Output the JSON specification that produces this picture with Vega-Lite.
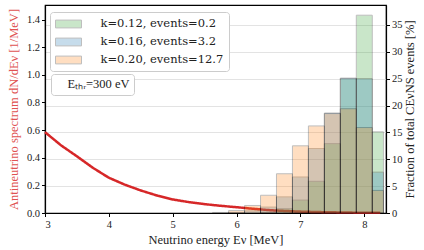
{
  "$schema": "https://vega.github.io/schema/vega-lite/v6.json",
  "width": 341,
  "height": 208,
  "autosize": {"type": "none"},
  "padding": {"left": 45, "top": 5, "right": 38, "bottom": 37},
  "config": {
    "font": "Liberation Serif",
    "view": {"stroke": "black", "strokeWidth": 1.2},
    "axis": {
      "domainColor": "black",
      "domainWidth": 1.2,
      "tickColor": "black",
      "tickSize": 3.5,
      "labelFont": "Liberation Serif",
      "labelFontSize": 10.5,
      "labelColor": "#222222",
      "labelPadding": 2,
      "titleFont": "Liberation Serif",
      "titleFontSize": 12.5,
      "titleFontWeight": "normal",
      "titleColor": "#222222",
      "gridColor": "#e3e3e3",
      "gridWidth": 1
    },
    "legend": {
      "labelFont": "Liberation Serif",
      "labelFontSize": 12.5,
      "labelColor": "#222222"
    }
  },
  "datasets": {
    "spectrum": [
      {"E": 3.0, "dNdE": 0.585, "thr": "Eₜₕᵣ=300 eV"},
      {"E": 3.25, "dNdE": 0.49, "thr": "Eₜₕᵣ=300 eV"},
      {"E": 3.5, "dNdE": 0.41, "thr": "Eₜₕᵣ=300 eV"},
      {"E": 3.75, "dNdE": 0.327, "thr": "Eₜₕᵣ=300 eV"},
      {"E": 4.0, "dNdE": 0.255, "thr": "Eₜₕᵣ=300 eV"},
      {"E": 4.25, "dNdE": 0.205, "thr": "Eₜₕᵣ=300 eV"},
      {"E": 4.5, "dNdE": 0.163, "thr": "Eₜₕᵣ=300 eV"},
      {"E": 4.75, "dNdE": 0.127, "thr": "Eₜₕᵣ=300 eV"},
      {"E": 5.0, "dNdE": 0.098, "thr": "Eₜₕᵣ=300 eV"},
      {"E": 5.25, "dNdE": 0.079, "thr": "Eₜₕᵣ=300 eV"},
      {"E": 5.5, "dNdE": 0.064, "thr": "Eₜₕᵣ=300 eV"},
      {"E": 5.75, "dNdE": 0.052, "thr": "Eₜₕᵣ=300 eV"},
      {"E": 6.0, "dNdE": 0.042, "thr": "Eₜₕᵣ=300 eV"},
      {"E": 6.25, "dNdE": 0.031, "thr": "Eₜₕᵣ=300 eV"},
      {"E": 6.5, "dNdE": 0.021, "thr": "Eₜₕᵣ=300 eV"},
      {"E": 6.75, "dNdE": 0.015, "thr": "Eₜₕᵣ=300 eV"},
      {"E": 7.0, "dNdE": 0.01, "thr": "Eₜₕᵣ=300 eV"},
      {"E": 7.25, "dNdE": 0.007, "thr": "Eₜₕᵣ=300 eV"},
      {"E": 7.5, "dNdE": 0.005, "thr": "Eₜₕᵣ=300 eV"},
      {"E": 7.75, "dNdE": 0.003, "thr": "Eₜₕᵣ=300 eV"},
      {"E": 8.0, "dNdE": 0.002, "thr": "Eₜₕᵣ=300 eV"},
      {"E": 8.25, "dNdE": 0.001, "thr": "Eₜₕᵣ=300 eV"}
    ],
    "hist": [
      {"k": "k=0.12, events=0.2", "lo": 6.375, "hi": 6.625, "pct": 0.15},
      {"k": "k=0.12, events=0.2", "lo": 6.625, "hi": 6.875, "pct": 0.8},
      {"k": "k=0.12, events=0.2", "lo": 6.875, "hi": 7.125, "pct": 2.4},
      {"k": "k=0.12, events=0.2", "lo": 7.125, "hi": 7.375, "pct": 5.9},
      {"k": "k=0.12, events=0.2", "lo": 7.375, "hi": 7.625, "pct": 12.9},
      {"k": "k=0.12, events=0.2", "lo": 7.625, "hi": 7.875, "pct": 25.0},
      {"k": "k=0.12, events=0.2", "lo": 7.875, "hi": 8.125, "pct": 36.8},
      {"k": "k=0.12, events=0.2", "lo": 8.125, "hi": 8.3, "pct": 15.1},
      {"k": "k=0.16, events=3.2", "lo": 5.875, "hi": 6.125, "pct": 0.1},
      {"k": "k=0.16, events=3.2", "lo": 6.125, "hi": 6.375, "pct": 0.4},
      {"k": "k=0.16, events=3.2", "lo": 6.375, "hi": 6.625, "pct": 1.1},
      {"k": "k=0.16, events=3.2", "lo": 6.625, "hi": 6.875, "pct": 3.0},
      {"k": "k=0.16, events=3.2", "lo": 6.875, "hi": 7.125, "pct": 6.7},
      {"k": "k=0.16, events=3.2", "lo": 7.125, "hi": 7.375, "pct": 12.0},
      {"k": "k=0.16, events=3.2", "lo": 7.375, "hi": 7.625, "pct": 18.6},
      {"k": "k=0.16, events=3.2", "lo": 7.625, "hi": 7.875, "pct": 25.1},
      {"k": "k=0.16, events=3.2", "lo": 7.875, "hi": 8.125, "pct": 25.0},
      {"k": "k=0.16, events=3.2", "lo": 8.125, "hi": 8.3, "pct": 7.6},
      {"k": "k=0.20, events=12.7", "lo": 5.625, "hi": 5.875, "pct": 0.1},
      {"k": "k=0.20, events=12.7", "lo": 5.875, "hi": 6.125, "pct": 0.45},
      {"k": "k=0.20, events=12.7", "lo": 6.125, "hi": 6.375, "pct": 1.4},
      {"k": "k=0.20, events=12.7", "lo": 6.375, "hi": 6.625, "pct": 3.3},
      {"k": "k=0.20, events=12.7", "lo": 6.625, "hi": 6.875, "pct": 7.3},
      {"k": "k=0.20, events=12.7", "lo": 6.875, "hi": 7.125, "pct": 12.5},
      {"k": "k=0.20, events=12.7", "lo": 7.125, "hi": 7.375, "pct": 16.2},
      {"k": "k=0.20, events=12.7", "lo": 7.375, "hi": 7.625, "pct": 18.5},
      {"k": "k=0.20, events=12.7", "lo": 7.625, "hi": 7.875, "pct": 19.4},
      {"k": "k=0.20, events=12.7", "lo": 7.875, "hi": 8.125, "pct": 15.9},
      {"k": "k=0.20, events=12.7", "lo": 8.125, "hi": 8.3, "pct": 4.2}
    ]
  },
  "layer": [
    {
      "data": {"name": "spectrum"},
      "mark": {"type": "line", "color": "#d62728", "strokeWidth": 2.5},
      "encoding": {
        "x": {
          "field": "E",
          "type": "quantitative",
          "scale": {"domain": [3, 8.34], "nice": false, "zero": false},
          "axis": {
            "values": [3, 4, 5, 6, 7, 8],
            "format": "d",
            "grid": false,
            "title": "Neutrino energy Eν [MeV]",
            "labelPadding": 3,
            "titlePadding": 3
          }
        },
        "y": {
          "field": "dNdE",
          "type": "quantitative",
          "scale": {"domain": [0, 1.505], "nice": false},
          "axis": {
            "orient": "left",
            "values": [0, 0.2, 0.4, 0.6, 0.8, 1.0, 1.2, 1.4],
            "format": ".1f",
            "grid": false,
            "title": "Antineutrino spectrum dN/dEν [1/MeV]",
            "titleColor": "#e05252",
            "titlePadding": 6
          }
        },
        "strokeDash": {
          "field": "thr",
          "type": "nominal",
          "scale": {"range": [[1, 0]]},
          "legend": {
            "title": null,
            "orient": "none",
            "legendX": 6,
            "legendY": 69,
            "fillColor": "white",
            "strokeColor": "#cccccc",
            "cornerRadius": 3,
            "padding": 4,
            "symbolSize": 0,
            "symbolStrokeWidth": 0,
            "symbolOpacity": 0,
            "labelOffset": 0
          }
        }
      }
    },
    {
      "data": {"name": "hist"},
      "mark": {"type": "bar", "opacity": 0.25, "stroke": "black", "strokeWidth": 1},
      "encoding": {
        "x": {"field": "lo", "type": "quantitative"},
        "x2": {"field": "hi"},
        "y": {
          "field": "pct",
          "type": "quantitative",
          "stack": null,
          "scale": {"domain": [0, 38.7], "nice": false},
          "axis": {
            "orient": "right",
            "values": [0, 5, 10, 15, 20, 25, 30, 35],
            "grid": true,
            "title": "Fraction of total CEνNS events [%]",
            "titleAngle": -90,
            "titleBaseline": "top",
            "titlePadding": 1
          }
        },
        "y2": {"datum": 0},
        "color": {
          "field": "k",
          "type": "nominal",
          "sort": null,
          "scale": {
            "domain": ["k=0.12, events=0.2", "k=0.16, events=3.2", "k=0.20, events=12.7"],
            "range": ["#2ca02c", "#1f77b4", "#ff7f0e"]
          },
          "legend": {
            "title": null,
            "orient": "none",
            "legendX": 5,
            "legendY": 7,
            "fillColor": "white",
            "strokeColor": "#cccccc",
            "cornerRadius": 3,
            "padding": 5,
            "symbolType": "M-2,-0.6H2V0.6H-2Z",
            "symbolSize": 169,
            "symbolOffset": 6.5,
            "symbolOpacity": 0.25,
            "symbolStrokeColor": "black",
            "symbolStrokeWidth": 1,
            "labelFont": "DejaVu Serif",
            "labelFontSize": 11.5,
            "labelOffset": 25,
            "rowPadding": 5
          }
        }
      }
    }
  ],
  "resolve": {"scale": {"y": "independent", "color": "independent", "strokeDash": "independent"}}
}
